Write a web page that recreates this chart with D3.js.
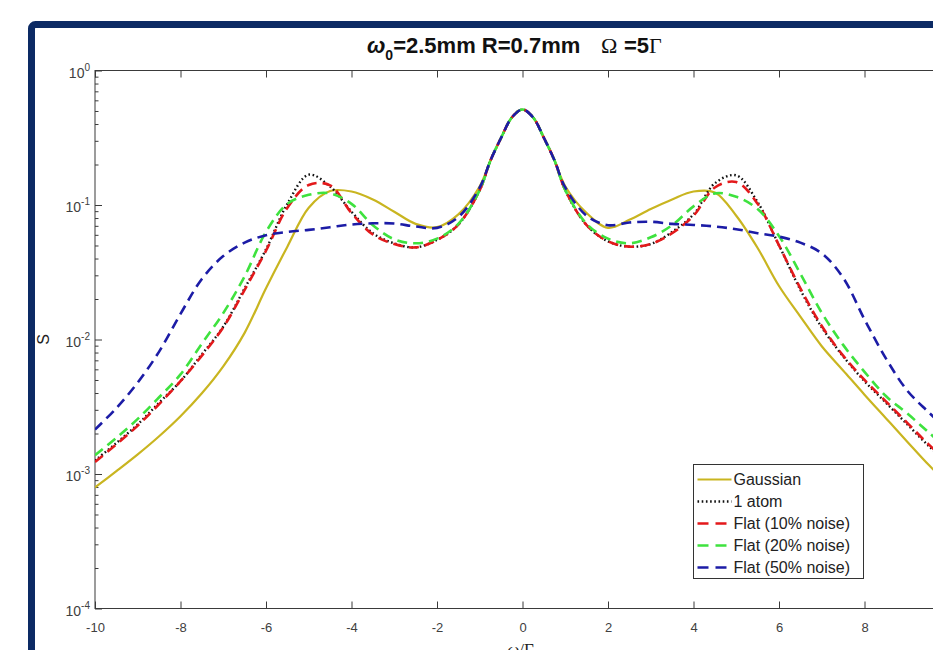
<!DOCTYPE html>
<html>
<head>
<meta charset="utf-8">
<script src="https://cdn.jsdelivr.net/npm/d3@7"></script>
<style>
  html, body { margin: 0; padding: 0; background: #fff; }
  svg { display: block; }
</style>
</head>
<body>
<svg id="chart" width="933" height="650"></svg>
<script>
// Detuning grid (ω/Γ) shared by every spectrum
const detuning = [-10, -9.5, -9, -8.5, -8, -7.5, -7, -6.5, -6, -5.5, -5, -4.5, -4, -3.5, -3, -2.5, -2, -1.5, -1, -0.75, -0.5, -0.25,
  0, 0.25, 0.5, 0.75, 1, 1.5, 2, 2.5, 3, 3.5, 4, 4.5, 5, 5.5, 6, 6.5, 7, 7.5, 8, 8.5, 9, 9.5, 10];

// Spectrum S for each source model
const gaussian = [0.000794, 0.00105, 0.00140, 0.00191, 0.00269, 0.00398, 0.00631, 0.0112, 0.0240, 0.0490, 0.0955, 0.127, 0.126, 0.110, 0.0891, 0.0724, 0.0684, 0.0851, 0.138, 0.214, 0.316, 0.447,
  0.513, 0.447, 0.316, 0.214, 0.138, 0.0871, 0.0676, 0.0776, 0.0933, 0.110, 0.126, 0.124, 0.0832, 0.0479, 0.0250, 0.0148, 0.00891, 0.00589, 0.00389, 0.00260, 0.00174, 0.00117, 0.000813];
const oneAtom = [0.00126, 0.00170, 0.00234, 0.00339, 0.00490, 0.00776, 0.01245, 0.0240, 0.0468, 0.102, 0.168, 0.137, 0.0891, 0.0617, 0.0519, 0.0484, 0.0550, 0.0716, 0.129, 0.214, 0.316, 0.447,
  0.513, 0.447, 0.316, 0.214, 0.129, 0.0708, 0.0537, 0.0490, 0.0513, 0.0631, 0.0851, 0.145, 0.166, 0.105, 0.0501, 0.0234, 0.0123, 0.00750, 0.00490, 0.00339, 0.00234, 0.00162, 0.00117];
const flat10 = [0.00123, 0.00166, 0.00229, 0.00331, 0.00490, 0.00759, 0.0123, 0.0234, 0.0457, 0.0955, 0.141, 0.140, 0.0871, 0.0603, 0.0513, 0.0484, 0.0550, 0.0716, 0.129, 0.214, 0.316, 0.447,
  0.513, 0.447, 0.316, 0.214, 0.129, 0.0708, 0.0537, 0.0490, 0.0513, 0.0617, 0.0832, 0.135, 0.148, 0.102, 0.0501, 0.0240, 0.0126, 0.00759, 0.00501, 0.00347, 0.00240, 0.00166, 0.00120];
const flat20 = [0.00138, 0.00186, 0.00257, 0.00372, 0.00550, 0.00933, 0.0157, 0.0295, 0.0631, 0.102, 0.119, 0.122, 0.102, 0.0708, 0.0556, 0.0519, 0.0562, 0.0724, 0.129, 0.214, 0.316, 0.447,
  0.513, 0.447, 0.316, 0.214, 0.129, 0.0724, 0.0562, 0.0519, 0.0575, 0.0708, 0.0977, 0.122, 0.115, 0.0933, 0.0589, 0.0309, 0.0158, 0.00912, 0.00575, 0.00380, 0.00282, 0.00204, 0.00148];
const flat50 = [0.00214, 0.00309, 0.00479, 0.00813, 0.0155, 0.0282, 0.0417, 0.0525, 0.0596, 0.0631, 0.0653, 0.0684, 0.0716, 0.0731, 0.0728, 0.0692, 0.0676, 0.0813, 0.135, 0.214, 0.316, 0.447,
  0.513, 0.447, 0.316, 0.214, 0.135, 0.0832, 0.0708, 0.0741, 0.0750, 0.0724, 0.0711, 0.0692, 0.0661, 0.0617, 0.0582, 0.0525, 0.0437, 0.0288, 0.0141, 0.00724, 0.00417, 0.00288, 0.00204];

const seriesNames = ["Gaussian", "1 atom", "Flat (10% noise)", "Flat (20% noise)", "Flat (50% noise)"];
const xTicks = [-10, -8, -6, -4, -2, 0, 2, 4, 6, 8, 10];
const xTickLabels = ["-10", "-8", "-6", "-4", "-2", "0", "2", "4", "6", "8", ""];
const yDecades = [-4, -3, -2, -1, 0];

const series = [
  { name: seriesNames[0], values: gaussian, color: "#c9b520", width: 2.2, dash: null },
  { name: seriesNames[1], values: oneAtom, color: "#111111", width: 2.4, dash: "1.6,2.6" },
  { name: seriesNames[2], values: flat10, color: "#e3191b", width: 2.6, dash: "10,6" },
  { name: seriesNames[3], values: flat20, color: "#3ee23e", width: 2.6, dash: "10,6" },
  { name: seriesNames[4], values: flat50, color: "#1c1ca6", width: 2.6, dash: "10,6" }
];

const svg = d3.select("#chart");
const sans = "'Liberation Sans', Arial, Helvetica, sans-serif";
const serif = "'Liberation Serif', 'Times New Roman', serif";

// Figure frame
svg.append("rect")
  .attr("x", 31.5).attr("y", 24.5)
  .attr("width", 1000).attr("height", 1000)
  .attr("rx", 4)
  .attr("fill", "#fff")
  .attr("stroke", "#0c2a64")
  .attr("stroke-width", 7);

const plot = { left: 95, right: 950, top: 70.5, bottom: 608.5 };
const x = d3.scaleLinear().domain([-10, 10]).range([plot.left, plot.right]);
const y = d3.scaleLog().domain([1e-4, 1]).range([plot.bottom, plot.top]);

svg.append("defs").append("clipPath").attr("id", "plotClip")
  .append("rect")
  .attr("x", plot.left).attr("y", plot.top)
  .attr("width", plot.right - plot.left).attr("height", plot.bottom - plot.top);

const axisColor = "#3a3a3a";
const labelColor = "#404040";

// Box around the axes
svg.append("rect")
  .attr("x", plot.left).attr("y", plot.top)
  .attr("width", plot.right - plot.left).attr("height", plot.bottom - plot.top)
  .attr("fill", "none").attr("stroke", axisColor).attr("stroke-width", 1);

// X axes (bottom with labels, top mirror) — inward ticks
const xBottom = d3.axisBottom(x).tickValues(xTicks).tickSize(-7).tickPadding(14)
  .tickFormat((d, i) => xTickLabels[i]);
const gxb = svg.append("g").attr("transform", `translate(0,${plot.bottom})`).call(xBottom);
gxb.select(".domain").remove();
gxb.selectAll("line").attr("stroke", axisColor);
gxb.selectAll("text").attr("font-family", sans).attr("font-size", 13).attr("fill", labelColor);

const xTop = d3.axisTop(x).tickValues(xTicks).tickSize(-7).tickFormat("");
const gxt = svg.append("g").attr("transform", `translate(0,${plot.top})`).call(xTop);
gxt.select(".domain").remove();
gxt.selectAll("line").attr("stroke", axisColor);

// Y axis: log decades with minor ticks
const minorVals = [];
yDecades.slice(0, -1).forEach(e => { for (let m = 2; m <= 9; m++) minorVals.push(m * Math.pow(10, e)); });
const majorVals = yDecades.map(e => Math.pow(10, e));

const yMinor = d3.axisLeft(y).tickValues(minorVals).tickSize(-3.5).tickFormat("");
const gym = svg.append("g").attr("transform", `translate(${plot.left},0)`).call(yMinor);
gym.select(".domain").remove();
gym.selectAll("line").attr("stroke", axisColor);

const yMajor = d3.axisLeft(y).tickValues(majorVals).tickSize(-7).tickFormat("");
const gyM = svg.append("g").attr("transform", `translate(${plot.left},0)`).call(yMajor);
gyM.select(".domain").remove();
gyM.selectAll("line").attr("stroke", axisColor);

// Decade labels as 10 with superscript exponent
const yLab = svg.append("g");
majorVals.forEach((v, i) => {
  const t = yLab.append("text")
    .attr("x", plot.left - 5).attr("y", y(v) + 7)
    .attr("text-anchor", "end")
    .attr("font-family", sans).attr("fill", labelColor);
  t.append("tspan").attr("font-size", 14).text("10");
  t.append("tspan").attr("font-size", 10).attr("dy", -7).text(yDecades[i] === 0 ? "0" : "-" + Math.abs(yDecades[i]));
});

// Axis titles
svg.append("text")
  .attr("transform", `translate(49,${(plot.top + plot.bottom) / 2}) rotate(-90)`)
  .attr("text-anchor", "middle")
  .attr("font-family", sans).attr("font-size", 16).attr("fill", "#222")
  .text("S");

const xTitle = svg.append("text")
  .attr("x", (plot.left + plot.right) / 2 - 2).attr("y", 655)
  .attr("text-anchor", "middle")
  .attr("font-family", serif).attr("font-size", 17).attr("fill", "#222");
xTitle.append("tspan").attr("font-style", "italic").text("ω");
xTitle.append("tspan").text("/Γ");

// Title
const title = svg.append("text")
  .attr("y", 53)
  .attr("font-family", sans).attr("font-size", 22).attr("font-weight", "bold").attr("fill", "#111");
title.append("tspan").attr("x", 367).attr("font-style", "italic").attr("font-size", 22).text("ω");
title.append("tspan").attr("font-size", 14).attr("dy", 7).text("0");
title.append("tspan").attr("dy", -7).text("=2.5mm R=0.7mm");
title.append("tspan").attr("x", 601).attr("font-family", serif).attr("font-weight", "normal").attr("font-size", 22).text("Ω");
title.append("tspan").attr("x", 624).text("=5");
title.append("tspan").attr("font-family", serif).attr("font-weight", "normal").attr("font-size", 22).text("Γ");

// Spectra
const line = d3.line()
  .x((d, i) => x(detuning[i]))
  .y(d => y(d))
  .curve(d3.curveCatmullRom.alpha(0.5));

const curves = svg.append("g").attr("clip-path", "url(#plotClip)");
series.forEach(s => {
  curves.append("path")
    .datum(s.values)
    .attr("d", line)
    .attr("fill", "none")
    .attr("stroke", s.color)
    .attr("stroke-width", s.width)
    .attr("stroke-dasharray", s.dash)
    .attr("stroke-linejoin", "round");
});

// Legend
const legend = { x: 693.5, y: 464.5, w: 170, h: 114 };
svg.append("rect")
  .attr("x", legend.x).attr("y", legend.y)
  .attr("width", legend.w).attr("height", legend.h)
  .attr("fill", "#fff").attr("stroke", "#333").attr("stroke-width", 1);
series.forEach((s, i) => {
  const cy = legend.y + 15 + i * 22;
  svg.append("line")
    .attr("x1", legend.x + 4).attr("x2", legend.x + 38)
    .attr("y1", cy).attr("y2", cy)
    .attr("stroke", s.color)
    .attr("stroke-width", s.width)
    .attr("stroke-dasharray", s.dash ? (s.dash === "10,6" ? "11,7" : s.dash) : null);
  svg.append("text")
    .attr("x", legend.x + 40).attr("y", cy + 5.5)
    .attr("font-family", sans).attr("font-size", 16).attr("fill", "#222")
    .text(s.name);
});
</script>
</body>
</html>
